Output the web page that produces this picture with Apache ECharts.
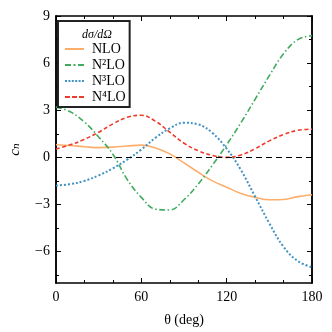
<!DOCTYPE html>
<html>
<head>
<meta charset="utf-8">
<script src="https://cdn.jsdelivr.net/npm/echarts@6/dist/echarts.min.js"></script>
<style>
  html, body { margin: 0; padding: 0; background: #fff; }
  #chart { width: 332px; height: 332px; }
</style>
</head>
<body>
<div id="chart"></div>
<script>
// angles in degrees
var theta = [0, 10, 20, 30, 40, 50, 60, 70, 80, 90, 100, 110, 120, 130, 140, 150, 160, 170, 180];
var nlo  = [0.8, 0.75, 0.68, 0.62, 0.65, 0.72, 0.78, 0.6, 0.22, -0.35, -0.95, -1.5, -1.9, -2.3, -2.55, -2.7, -2.68, -2.5, -2.38];
var n2lo = [3.2, 2.9, 2.25, 1.3, 0.2, -1.4, -2.55, -3.3, -3.35, -2.7, -1.7, -0.5, 0.8, 2.2, 3.7, 5.2, 6.6, 7.5, 7.75];
var n3lo = [-1.8, -1.7, -1.5, -1.15, -0.7, -0.15, 0.5, 1.25, 1.85, 2.2, 2.1, 1.55, 0.55, -0.8, -2.5, -4.2, -5.7, -6.6, -7.0];
var n4lo = [0.53, 0.8, 1.15, 1.6, 2.13, 2.55, 2.68, 2.3, 1.6, 0.9, 0.42, 0.12, 0.0, 0.15, 0.55, 1.05, 1.45, 1.72, 1.8];
var names = ["NLO", "N\u00b2LO", "N\u00b3LO", "N\u2074LO"];
var yMajor = [-6, -3, 0, 3, 6, 9];
var yMinor = [-7.5, -4.5, -1.5, 1.5, 4.5, 7.5];
var xTicks = [0, 60, 120, 180];

var font = "'Liberation Serif', 'DejaVu Serif', serif";
function pairs(ys) {
	return theta.map(function (t, i) { return [t, ys[i]]; });
}
function fmt(v) {
	return v < 0 ? "\u2212" + Math.abs(v) : String(v);
}

// legend line samples (solid, dash-dot, dotted, dashed)
var icons = [
	"path://M0,0h19v2h-19z",
	"path://M0,0h6v2h-6zM8.5,0h2v2h-2zM13,0h6v2h-6z",
	"path://M0,0h2v2h-2zM3.4,0h2v2h-2zM6.8,0h2v2h-2zM10.2,0h2v2h-2zM13.6,0h2v2h-2zM17,0h2v2h-2z",
	"path://M0,0h5v2h-5zM7,0h5v2h-5zM14,0h5v2h-5z"
];

var chart = echarts.init(document.getElementById("chart"));
var xBase = {
	type: "value", min: 0, max: 180, interval: 60,
	axisLine: { show: true, onZero: false, lineStyle: { color: "#000", width: 1.5 } },
	axisTick: { show: true, inside: true, length: 5, lineStyle: { color: "#000", width: 1 } },
	minorTick: { show: true, splitNumber: 3, length: 3, lineStyle: { color: "#000", width: 1 } },
	splitLine: { show: false },
	minorSplitLine: { show: false }
};
function yAxis(pos, ticks, len, withLabels) {
	return {
		type: "value", position: pos, min: -8, max: 9,
		axisLine: { show: true, onZero: false, lineStyle: { color: "#000", width: 1.5 } },
		axisTick: { show: true, inside: true, length: len, customValues: ticks, lineStyle: { color: "#000", width: 1 } },
		axisLabel: withLabels ? {
			show: true, customValues: ticks, formatter: fmt, color: "#000",
			fontFamily: font, fontSize: 14, margin: 6
		} : { show: false },
		splitLine: { show: false }
	};
}
var yMain = yAxis("left", yMajor, 5, true);
yMain.name = "c\u2099";
yMain.nameLocation = "middle";
yMain.nameGap = 33;
yMain.nameRotate = 90;
yMain.nameTextStyle = { fontFamily: font, fontStyle: "italic", fontSize: 15, color: "#000" };

var option = {
	backgroundColor: "#fff",
	animation: false,
	grid: { left: 53, right: 20, top: 16, bottom: 49 },
	title: {
		text: "d\u03c3/d\u03a9",
		left: 77, top: 24,
		textStyle: { fontFamily: font, fontStyle: "italic", fontWeight: "normal", fontSize: 12, color: "#000" }
	},
	legend: {
		orient: "vertical",
		left: 58, top: 21,
		padding: [21, 4, 3, 7],
		itemGap: 2,
		itemWidth: 19,
		itemHeight: 2,
		borderColor: "#222",
		borderWidth: 2,
		backgroundColor: "#fff",
		textStyle: { fontFamily: font, fontSize: 14, color: "#000", padding: [0, 0, 0, 3] },
		data: names.map(function (n, i) { return { name: n, icon: icons[i] }; })
	},
	xAxis: [
		Object.assign({}, xBase, {
			position: "bottom",
			name: "\u03b8 (deg)", nameLocation: "middle", nameGap: 30,
			nameTextStyle: { fontFamily: font, fontSize: 14, color: "#000" },
			axisLabel: { show: true, customValues: xTicks, color: "#000", fontFamily: font, fontSize: 14, margin: 7 }
		}),
		Object.assign({}, xBase, { position: "top", axisLabel: { show: false } })
	],
	yAxis: [
		yMain,
		yAxis("left", yMinor, 3, false),
		yAxis("right", yMajor, 5, false),
		yAxis("right", yMinor, 3, false)
	],
	series: [
		{
			name: names[0], type: "line", data: pairs(nlo), smooth: 0.4, showSymbol: false, symbol: "none",
			color: "#fdae6b", lineStyle: { color: "#fdae6b", width: 1.6, type: "solid" },
			markLine: {
				silent: true, symbol: "none", label: { show: false },
				lineStyle: { color: "#000", width: 1, type: [6, 4] },
				data: [{ yAxis: 0 }]
			},
			z: 3
		},
		{
			name: names[1], type: "line", data: pairs(n2lo), smooth: 0.4, showSymbol: false, symbol: "none",
			color: "#41ab5d", lineStyle: { color: "#41ab5d", width: 1.6, type: [6, 2.5, 1.5, 2.5] },
			z: 3
		},
		{
			name: names[2], type: "line", data: pairs(n3lo), smooth: 0.4, showSymbol: false, symbol: "none",
			color: "#4292c6", lineStyle: { color: "#4292c6", width: 2, type: [2, 2] },
			z: 3
		},
		{
			name: names[3], type: "line", data: pairs(n4lo), smooth: 0.4, showSymbol: false, symbol: "none",
			color: "#ef3b2c", lineStyle: { color: "#ef3b2c", width: 1.6, type: [4, 2.5] },
			z: 3
		}
	]
};
chart.setOption(option);
</script>
</body>
</html>
